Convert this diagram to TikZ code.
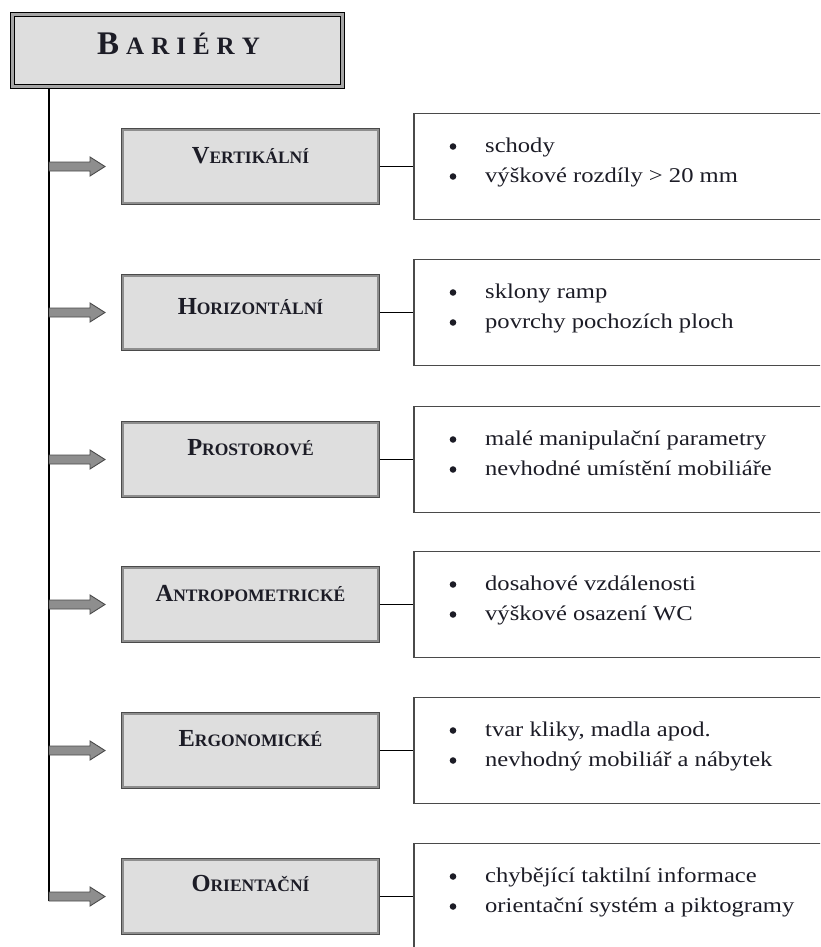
\documentclass[tikz,border=0pt]{standalone}
\usepackage{fontspec}
\setmainfont{Liberation Serif}
\newfontfamily\itemfont[FakeStretch=1.17]{Liberation Serif}
\definecolor{boxfill}{HTML}{DEDEDE}
\definecolor{bandgray}{HTML}{8E8E8E}
\definecolor{edgegray}{HTML}{4A4A4A}
\definecolor{inkc}{HTML}{1C1C26}
\newcommand{\catlabel}[2]{{\fontsize{24.5}{24.5}\selectfont #1}{\fontsize{17.5}{17.5}\selectfont #2}}
\newcommand{\barrierrow}[8]{%
  \node[catbox] (c#1) at (250.5,#2) {};
  \node[itembox] (i#1) at (627,#2) {};
  \node[cattext] (ct#1) at (250.5,#3) {\catlabel{#4}{#5}};
  \draw[conn] ([xshift=1.7pt]c#1.east) -- (i#1.west);
  \draw[arrowshape] (49,#2-4.5) -- (90,#2-4.5) -- (90,#2-9.5) -- (105,#2) -- (90,#2+9.5) -- (90,#2+4.5) -- (49,#2+4.5) -- cycle;
  \fill[inkc] (453,#2-20) circle[radius=3.3pt];
  \fill[inkc] (453,#2+10) circle[radius=3.3pt];
  \node[itemtext] (ia#1) at (485,#2-14) {#6};
  \node[itemtext] (ib#1) at (485,#2+16) {#7};
}
\begin{document}
\begin{tikzpicture}[x=1pt,y=-1pt,
  titlebox/.style={draw=black, line width=1.1pt, double=bandgray!80, double distance=2.8pt, fill=boxfill, inner sep=0pt, minimum width=330pt, minimum height=72pt},
  catbox/.style={draw=edgegray, line width=0.8pt, double=bandgray, double distance=1.8pt, fill=boxfill, inner sep=0pt, minimum width=255.6pt, minimum height=73.6pt},
  itembox/.style={draw=edgegray, line width=1.3pt, fill=white, inner sep=0pt, minimum width=426pt, minimum height=106pt},
  cattext/.style={anchor=base, inner sep=0pt, text=inkc, font=\bfseries},
  itemtext/.style={anchor=base west, inner sep=0pt, text=inkc, font=\itemfont\fontsize{21}{21}\selectfont},
  conn/.style={draw=black, line width=1.2pt},
  trunk/.style={draw=black, line width=1.3pt},
  arrowshape/.style={draw=edgegray, line width=0.9pt, fill=bandgray, line join=miter}]
\clip (0,0) rectangle (820,947);
\fill[white] (0,0) rectangle (820,947);
\node[titlebox] (title) at (177.5,50.5) {};
\node[anchor=base west, inner sep=0pt, text=inkc, font=\bfseries] (titletext) at (97,55)
  {{\fontsize{33}{33}\selectfont B}\hspace{7pt}{\fontsize{25}{25}\selectfont A\hspace{7pt}R\hspace{7pt}I\hspace{7pt}É\hspace{7pt}R\hspace{7pt}Y}};
\coordinate (tt) at (49,89);
\coordinate (tb) at (49,901);
\draw[trunk] (tt) -- (tb);
\barrierrow{1}{166.5}{163}{V}{ERTIKÁLNÍ}{schody}{výškové rozdíly > 20 mm}{}
\barrierrow{2}{312.5}{314}{H}{ORIZONTÁLNÍ}{sklony ramp}{povrchy pochozích ploch}{}
\barrierrow{3}{459.5}{455}{P}{ROSTOROVÉ}{malé manipulační parametry}{nevhodné umístění mobiliáře}{}
\barrierrow{4}{604.5}{601}{A}{NTROPOMETRICKÉ}{dosahové vzdálenosti}{výškové osazení WC}{}
\barrierrow{5}{750.5}{746.5}{E}{RGONOMICKÉ}{tvar kliky, madla apod.}{nevhodný mobiliář a nábytek}{}
\barrierrow{6}{896.5}{891.7}{O}{RIENTAČNÍ}{chybějící taktilní informace}{orientační systém a piktogramy}{}
\end{tikzpicture}
\end{document}
